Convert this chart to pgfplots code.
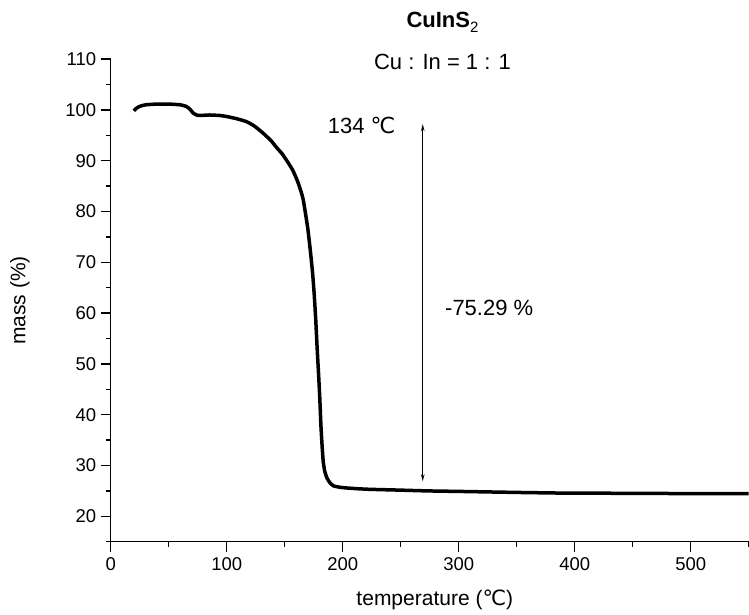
\documentclass[border=0pt]{standalone}
\usepackage{pgfplots}
\pgfplotsset{compat=1.18}
\usepackage{fontspec}
\setmainfont{Liberation Sans}
\newfontfamily\dv{DejaVu Sans}
\usetikzlibrary{arrows.meta}
\newcommand{\degC}{{\dv ℃}}
\begin{document}
\begin{tikzpicture}
\path[use as bounding box] (-110.7pt,-72.3pt) rectangle (638.3pt,541.7pt);
\begin{axis}[
  at={(0,0)}, anchor=south west,
  scale only axis, width=638pt, height=482.6pt,
  xmin=0, xmax=550, ymin=15, ymax=110,
  axis x line*=bottom, axis y line*=left,
  clip=false,
  xtick={0,100,...,500}, minor xtick={50,150,...,550},
  ytick={20,30,...,110}, minor ytick={15,25,...,105},
  tick align=outside,
  major tick length=10pt, minor tick length=5pt,
  every tick/.style={black, line width=1.5pt},
  axis line style={black, line width=1.5pt},
  tick label style={font=\fontsize{18.5}{21}\selectfont},
  /pgf/number format/assume math mode=true,
  xticklabel style={yshift=-2pt},
  yticklabel style={xshift=-1pt},
]
\addplot[black, line width=3.5pt, line join=round, smooth, tension=0.3] coordinates {
(20,99.8) (22,100.3) (25,100.7) (30,101.0) (40,101.15) (50,101.15) (60,101.0) (65,100.7) (68.5,100.1) (71,99.4) (74,99.0) (77,98.9) (85,99.0) (94,98.9) (100,98.7) (108,98.3) (117,97.7) (124,96.8) (131,95.5) (138,94.0) (143,92.6) (148,91.3) (153,89.6) (157,88.1) (161,86.0) (164,84.0) (166,82.3) (168,79.5) (170,76.5) (172,72.5) (174,68) (175.5,63.5) (176.8,58.5) (178,53) (179.2,48) (180.3,43) (181.2,38) (182.2,34) (183.2,30.8) (184.5,28.9) (186.5,27.5) (189,26.6) (192,26.0) (198,25.7) (205,25.55) (215,25.4) (225,25.3) (250,25.15) (273,25.0) (300,24.9) (325,24.8) (350,24.7) (379,24.6) (400,24.55) (425,24.55) (450,24.5) (475,24.5) (500,24.45) (525,24.45) (550,24.45)
};
\draw[line width=1pt, {Stealth[length=7pt,width=3.5pt]}-{Stealth[length=7pt,width=3.5pt]}] (axis cs:269,97.2) -- (axis cs:269,26.9);
\node[anchor=east, font=\fontsize{22}{24}\selectfont] at (axis cs:248.5,96.9) {134 \degC};
\node[anchor=west, font=\fontsize{22}{24}\selectfont] at (axis cs:285.3,61.1) {-75.29 \%};
\node[font=\bfseries\fontsize{22}{24}\selectfont] at (axis cs:286,117.2) {CuInS\raisebox{-0.45ex}{\mdseries\fontsize{15}{15}\selectfont 2}};
\node[font=\fontsize{22}{24}\selectfont] at (axis cs:286,109.4) {Cu : In = 1 : 1};
\node[rotate=90, font=\fontsize{21}{24}\selectfont] at (rel axis cs:-0.1422,0.5) {mass (\%)};
\node[font=\fontsize{21}{24}\selectfont] at (rel axis cs:0.508,-0.120) {temperature (\degC)};
\end{axis}
\end{tikzpicture}
\end{document}
